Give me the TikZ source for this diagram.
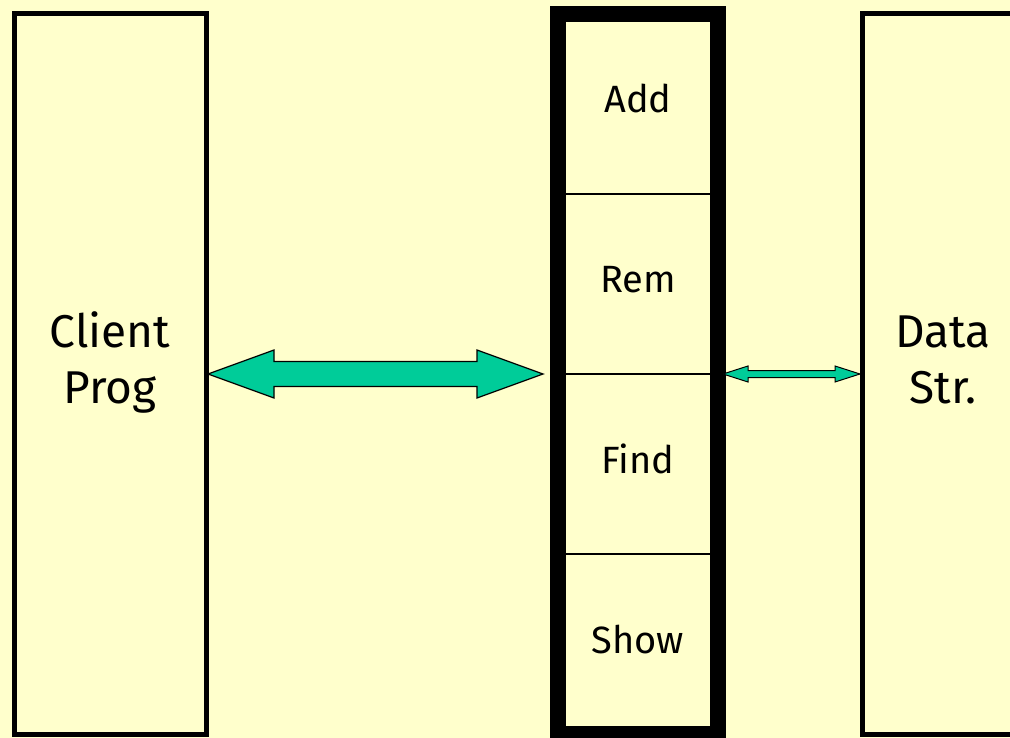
\documentclass[tikz,border=0pt]{standalone}
\usepackage{fontspec}
\setmainfont{Fira Sans}
\usetikzlibrary{calc}
\definecolor{bgyellow}{HTML}{FFFFCC}
\definecolor{arrowgreen}{HTML}{00CC99}
\begin{document}
\begin{tikzpicture}[x=1pt,y=-1pt,
  sidebox/.style={draw, line width=5pt, fill=bgyellow, minimum height=720pt, inner sep=0pt},
  ifacebox/.style={draw, line width=16pt, fill=bgyellow, minimum width=160pt, minimum height=720pt, inner sep=0pt},
  bigtext/.style={font=\fontsize{46}{54}\selectfont, anchor=base, inner sep=0pt},
  optext/.style={font=\fontsize{38}{44}\selectfont, anchor=base, inner sep=0pt},
  fatarrow/.style={draw=black, line width=1.2pt, fill=arrowgreen, line join=miter},
  divider/.style={draw=black, line width=1.5pt}]
\fill[bgyellow] (0,0) rectangle (1010,738);
\useasboundingbox (0,0) rectangle (1010,738);
% boxes
\node[sidebox, minimum width=192pt] (client) at (110,374) {};
\node[sidebox, minimum width=170pt] (data) at (947.5,374) {};
\node[ifacebox] (iface) at (638,374) {};
% dividers
\draw[divider] ($(iface.center)+(-80,-180)$) -- ($(iface.center)+(80,-180)$);
\draw[divider] ($(iface.center)+(-80,0)$) -- ($(iface.center)+(80,0)$);
\draw[divider] ($(iface.center)+(-80,180)$) -- ($(iface.center)+(80,180)$);
% redraw the thick border on top
\draw[line width=16pt] (iface.center) ++(-80,-360) rectangle ++(160,720);
% texts
\node[bigtext] (c1) at (110,347) {Client};
\node[bigtext] (c2) at (110,403) {Prog};
\node[bigtext] (d1) at (943,347) {Data};
\node[bigtext] (d2) at (943,403) {Str.};
\node[optext] (op1) at (638,113) {Add};
\node[optext] (op2) at (638,293) {Rem};
\node[optext] (op3) at (638,473) {Find};
\node[optext] (op4) at (638,653) {Show};
% big double arrow
\coordinate (bigL) at ([xshift=-0.5pt]client.east);
\coordinate (bigR) at ([xshift=-7pt]iface.west);
\draw[fatarrow] (bigL) -- ++(66,-24) -- ++(0,11.5) -- ($(bigR)+(-66,-12.5)$) -- ++(0,-11.5) -- (bigR)
  -- ++(-66,24) -- ++(0,-11.5) -- ($(bigL)+(66,12.5)$) -- ++(0,11.5) -- cycle;
% small double arrow
\coordinate (smL) at ([xshift=-3pt]iface.east);
\coordinate (smR) at (data.west);
\draw[fatarrow, line width=1pt] (smL) -- ++(25,-8) -- ++(0,4.5) -- ($(smR)+(-25,-3.5)$) -- ++(0,-4.5) -- (smR)
  -- ++(-25,8) -- ++(0,-4.5) -- ($(smL)+(25,3.5)$) -- ++(0,4.5) -- cycle;
\end{tikzpicture}
\end{document}
